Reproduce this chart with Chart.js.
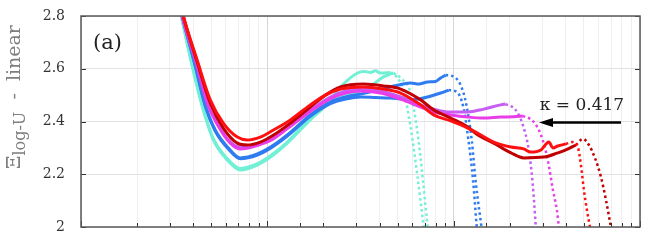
<!DOCTYPE html>
<html>
<head>
<meta charset="utf-8">
<script src="https://cdn.jsdelivr.net/npm/chart.js@4.4.0/dist/chart.umd.min.js"></script>
<style>
  body { margin: 0; background: #fff; }
  #wrap { width: 664px; height: 246px; }
</style>
</head>
<body>
<div id="wrap"><canvas id="grafico" width="664" height="246"></canvas></div>
<script>
// y tick labels
const yTicks = [2, 2.2, 2.4, 2.6, 2.8];

// each curve: [x, y] pairs, solid part and its dotted tail
const cyanA = [[3.20,2.9],[3.45,2.80],[4.00,2.595],[4.53,2.444],[5.13,2.330],[6.10,2.254],[7.16,2.216],[8.84,2.235],[10.4,2.265],[12.8,2.318],[17.0,2.406],[20.5,2.459],[24.7,2.531],[30.5,2.584],[33,2.590],[35.8,2.586],[38,2.592],[40.5,2.584],[45.8,2.586]];
const cyanADot = [[45.8,2.586],[49.4,2.569],[53.8,2.519],[58.7,2.379],[64.0,2.190],[69.0,2.0]];
const cyanB = [[3.20,2.9],[3.45,2.80],[4.00,2.598],[4.53,2.448],[5.13,2.335],[6.10,2.259],[7.16,2.222],[8.84,2.240],[10.4,2.270],[12.8,2.322],[17.0,2.413],[22.6,2.482],[30.5,2.512],[35.8,2.535],[42.0,2.569],[47.6,2.584]];
const cyanBDot = [[47.6,2.584],[51.9,2.565],[58.7,2.508],[64.0,2.356],[68.1,2.190],[72.5,2.0]];

const blueA = [[3.24,2.9],[3.49,2.80],[4.10,2.614],[4.64,2.463],[5.25,2.368],[6.17,2.300],[7.16,2.262],[8.84,2.277],[10.4,2.303],[12.8,2.349],[17.0,2.425],[21.8,2.474],[26.3,2.493],[31.6,2.504],[38.1,2.516],[45.8,2.531],[52,2.540],[58.7,2.546],[65,2.542],[72.5,2.550],[80,2.552],[85.1,2.565],[90.6,2.576]];
const blueADot = [[90.6,2.576],[98.8,2.572],[109,2.538],[117,2.463],[125,2.330],[131,2.178],[141,2.0]];
const blueB = [[3.24,2.9],[3.49,2.80],[4.10,2.611],[4.64,2.459],[5.25,2.364],[6.17,2.296],[7.16,2.259],[8.84,2.273],[10.4,2.299],[12.8,2.345],[17.0,2.420],[21.8,2.468],[26.3,2.485],[31.6,2.493],[38.1,2.491],[45.8,2.489],[52,2.485],[58.7,2.482],[66,2.486],[72.5,2.493],[85.1,2.508],[94.0,2.519]];
const blueBDot = [[94.0,2.519],[104,2.512],[113,2.451],[120,2.330],[127,2.178],[133,2.0]];

const violet = [[3.24,2.9],[3.49,2.80],[4.15,2.626],[4.76,2.474],[5.45,2.387],[6.33,2.322],[7.16,2.303],[8.84,2.315],[10.4,2.334],[12.8,2.379],[17.0,2.444],[21.8,2.493],[26.3,2.516],[31.6,2.523],[40.5,2.516],[51.9,2.493],[66.5,2.463],[78.1,2.447],[96.4,2.436],[119,2.436],[145,2.447],[179,2.463],[190,2.466]];
const violetDot = [[190,2.466],[215,2.444],[235,2.387],[253,2.292],[266,2.159],[276,2.0]];
const magenta = [[3.24,2.9],[3.49,2.80],[4.15,2.622],[4.76,2.470],[5.45,2.383],[6.33,2.318],[7.16,2.296],[8.84,2.309],[10.4,2.328],[12.8,2.373],[17.0,2.438],[21.8,2.487],[26.3,2.508],[31.6,2.516],[40.5,2.508],[51.9,2.485],[66.5,2.455],[78.1,2.436],[96.4,2.425],[119,2.417],[145,2.413],[179,2.417],[210,2.418],[235,2.421]];
const magentaDot = [[235,2.421],[266,2.402],[294,2.349],[320,2.254],[341,2.140],[358,2.064],[367,2.0]];

const red = [[3.28,2.9],[3.54,2.80],[4.20,2.633],[4.94,2.482],[5.80,2.394],[6.90,2.341],[7.81,2.330],[9.17,2.341],[10.8,2.368],[13.3,2.406],[17.0,2.463],[20.5,2.500],[24.7,2.523],[32.8,2.531],[42.0,2.523],[51.9,2.508],[66.5,2.463],[78.1,2.425],[96.4,2.402],[119,2.375],[140,2.349],[164,2.322],[203,2.303],[238,2.296],[259,2.284],[294,2.292],[324,2.322],[341,2.300],[362,2.307],[400,2.315]];
const redDot = [[400,2.315],[436,2.322],[464,2.303],[482,2.235],[500,2.140],[519,2.064],[539,2.0]];
const darkRed = [[3.28,2.9],[3.54,2.80],[4.20,2.626],[4.94,2.470],[5.80,2.375],[6.90,2.318],[7.81,2.311],[9.17,2.322],[10.8,2.349],[13.3,2.394],[17.0,2.455],[20.5,2.500],[24.7,2.531],[32.8,2.542],[42.0,2.535],[51.9,2.523],[66.5,2.482],[78.1,2.444],[96.4,2.413],[119,2.379],[135,2.349],[164,2.318],[203,2.281],[238,2.262],[305,2.265],[362,2.281],[400,2.292],[453,2.311]];
const darkRedDot = [[453,2.311],[494,2.334],[532,2.311],[573,2.262],[617,2.190],[657,2.102],[698,2.0]];

const curves = [
  { solid: cyanA, dot: cyanADot, color: '#72f0d6' },
  { solid: cyanB, dot: cyanBDot, color: '#72f0d6' },
  { solid: blueA, dot: blueADot, color: '#2f7cf0' },
  { solid: blueB, dot: blueBDot, color: '#2f7cf0' },
  { solid: violet, dot: violetDot, color: '#c75df2' },
  { solid: magenta, dot: magentaDot, color: '#e83de8' },
  { solid: darkRed, dot: darkRedDot, color: '#c00000' },
  { solid: red, dot: redDot, color: '#ff1010' }
];

const toXY = arr => arr.map(p => ({ x: p[0], y: p[1] }));
const datasets = [];
curves.forEach((c, i) => {
  datasets.push({
    data: toXY(c.solid), borderColor: c.color, borderWidth: 3,
    pointRadius: 0, cubicInterpolationMode: 'monotone', clip: 0, order: 20 - i
  });
  datasets.push({
    data: toXY(c.dot), borderColor: c.color, borderWidth: 2.5, borderDash: [2.5, 3],
    pointRadius: 0, cubicInterpolationMode: 'monotone', clip: 0, order: 20 - i
  });
});

const isDecade = v => Math.abs(Math.log10(v) - Math.round(Math.log10(v))) < 1e-9;

const decor = {
  id: 'decor',
  afterDraw(chart) {
    const { ctx, chartArea: a, scales: { x, y } } = chart;
    ctx.save();
    // inward ticks
    ctx.strokeStyle = '#333';
    ctx.lineWidth = 1;
    ctx.beginPath();
    x.ticks.forEach(t => {
      const px = Math.round(x.getPixelForValue(t.value)) + 0.5;
      const len = isDecade(t.value) ? 6 : 4;
      ctx.moveTo(px, a.bottom); ctx.lineTo(px, a.bottom - len);
    });
    yTicks.forEach(v => {
      const py = Math.round(y.getPixelForValue(v)) + 0.5;
      ctx.moveTo(a.left, py); ctx.lineTo(a.left + 5, py);
      ctx.moveTo(a.right, py); ctx.lineTo(a.right - 5, py);
    });
    ctx.stroke();
    // frame
    ctx.strokeStyle = '#5a5a5a';
    ctx.lineWidth = 1.5;
    ctx.strokeRect(a.left, a.top, a.right - a.left, a.bottom - a.top);

    // y title with subscript
    ctx.fillStyle = '#7f7f7f';
    ctx.translate(20, 97);
    ctx.rotate(-Math.PI / 2);
    const big = '19px "DejaVu Serif"', small = '16px "DejaVu Serif"';
    ctx.font = big; const w1 = ctx.measureText('Ξ').width; const w3 = ctx.measureText('  -  linear').width;
    ctx.font = small; const w2 = ctx.measureText('log-U').width;
    let s = -(w1 + w2 + w3) / 2;
    ctx.textBaseline = 'alphabetic';
    ctx.font = big; ctx.fillText('Ξ', s, 0);
    ctx.font = small; ctx.fillText('log-U', s + w1, 5);
    ctx.font = big; ctx.fillText('  -  linear', s + w1 + w2, 0);
    ctx.restore();

    ctx.save();
    ctx.fillStyle = '#222';
    ctx.font = '21px "DejaVu Serif"';
    ctx.textBaseline = 'alphabetic';
    ctx.fillText('(a)', 93, 49);
    ctx.font = '17px "DejaVu Serif"';
    ctx.textAlign = 'center';
    ctx.fillText('κ = 0.417', 582, 110);
    // arrow
    const ay = Math.round(y.getPixelForValue(2.4)) + 0.5;
    ctx.strokeStyle = '#000';
    ctx.lineWidth = 2.5;
    ctx.beginPath(); ctx.moveTo(621, ay); ctx.lineTo(550, ay); ctx.stroke();
    ctx.beginPath();
    ctx.moveTo(539, ay); ctx.lineTo(553, ay - 4.5); ctx.lineTo(553, ay + 4.5); ctx.closePath();
    ctx.fillStyle = '#000'; ctx.fill();
    ctx.restore();
  }
};

new Chart(document.getElementById('grafico').getContext('2d'), {
  type: 'line',
  data: { datasets },
  options: {
    responsive: false,
    animation: false,
    devicePixelRatio: 1,
    layout: { padding: { top: 16, right: 24, left: 0, bottom: 0 } },
    plugins: { legend: { display: false }, tooltip: { enabled: false } },
    scales: {
      x: {
        type: 'logarithmic', min: 1, max: 1000,
        ticks: { display: false },
        border: { display: false },
        grid: {
          drawTicks: false,
          color: c => (c.tick && isDecade(c.tick.value)) ? '#d6d6d6' : '#efefef'
        },
        afterFit: s => { s.height = 19; s.paddingLeft = 0; s.paddingRight = 0; }
      },
      y: {
        min: 2, max: 2.8,
        afterBuildTicks: s => { s.ticks = yTicks.map(v => ({ value: v })); },
        ticks: {
          padding: 16, color: '#333',
          font: { family: 'DejaVu Serif', size: 14 },
          callback: v => String(v)
        },
        border: { display: false },
        grid: { drawTicks: false, color: '#e2e2e2' },
        afterFit: s => { s.width = 81; s.paddingTop = 0; s.paddingBottom = 0; }
      }
    }
  },
  plugins: [decor]
});
</script>
</body>
</html>
